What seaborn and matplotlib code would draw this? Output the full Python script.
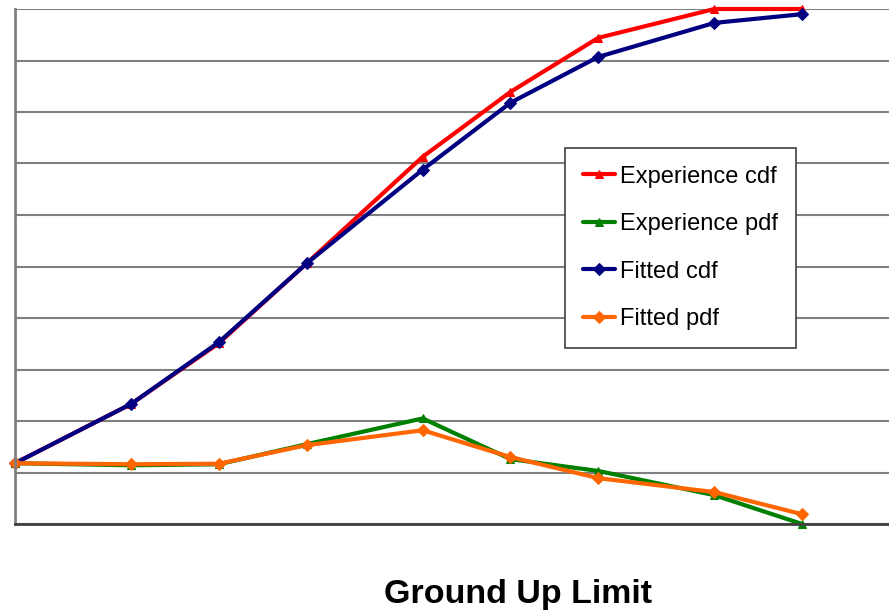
import numpy as np
import pandas as pd
import matplotlib
matplotlib.use('Agg')
import matplotlib.pyplot as plt
import seaborn as sns

# Ground up limits (log-spaced x axis)
limits = [1, 2.5, 5, 10, 25, 50, 100, 250, 500]

exp_cdf = [0.118, 0.233, 0.351, 0.506, 0.713, 0.839, 0.944, 1.0, 1.0]
exp_pdf = [0.118, 0.114, 0.116, 0.155, 0.205, 0.126, 0.103, 0.056, 0.0]
fit_cdf = [0.118, 0.233, 0.353, 0.506, 0.688, 0.818, 0.907, 0.973, 0.990]
fit_pdf = [0.118, 0.116, 0.117, 0.153, 0.182, 0.130, 0.089, 0.062, 0.019]

series_names = ['Experience cdf', 'Experience pdf', 'Fitted cdf', 'Fitted pdf']
series_values = [exp_cdf, exp_pdf, fit_cdf, fit_pdf]
series_colors = ['#FF0000', '#008000', '#000080', '#FF6600']
series_markers = ['^', '^', 'D', 'D']

sns.set_style('white')
plt.rcParams['font.family'] = ['Liberation Sans', 'DejaVu Sans']
plt.rcParams['text.color'] = 'black'

fig = plt.figure(figsize=(8.89, 6.11), dpi=100)
ax = fig.add_axes([15 / 889, 1 - 524 / 611, 1 - 15 / 889, (524 - 9) / 611])

for name, vals, col, mk in zip(series_names, series_values, series_colors, series_markers):
    sns.lineplot(x=limits, y=vals, color=col, marker=mk, markersize=6,
                 markeredgecolor=col, linewidth=3, label=name, ax=ax,
                 sort=False, clip_on=False)

ax.set_xscale('log')
ax.set_xlim(1, 993)
ax.set_ylim(0, 1)
ax.set_yticks(np.arange(0, 1.01, 0.1))
ax.set_xticks([])
ax.set_xticks([], minor=True)
ax.tick_params(left=False, bottom=False, labelleft=False, labelbottom=False)
ax.yaxis.grid(True, color='#808080', linewidth=1.5)
ax.xaxis.grid(False)
ax.set_axisbelow(True)

for side in ['top', 'right']:
    ax.spines[side].set_visible(False)
ax.spines['left'].set_color('#808080')
ax.spines['left'].set_linewidth(2)
ax.spines['bottom'].set_color('#404040')
ax.spines['bottom'].set_linewidth(2)

leg = ax.legend(loc='upper left', bbox_to_anchor=(565 / 889, 1 - 148 / 611),
                bbox_transform=fig.transFigure, borderaxespad=0,
                fontsize=17, frameon=True, fancybox=False, framealpha=1,
                edgecolor='#404040', handlelength=1.35, handletextpad=0.25,
                labelspacing=1.08, borderpad=0.75)
leg.get_frame().set_linewidth(1.2)

fig.text(518.5 / 889, 1 - 594 / 611, 'Ground Up Limit', ha='center', va='center',
         fontsize=24.5, fontweight='bold', color='black')

fig.savefig('out.png', dpi=100)
